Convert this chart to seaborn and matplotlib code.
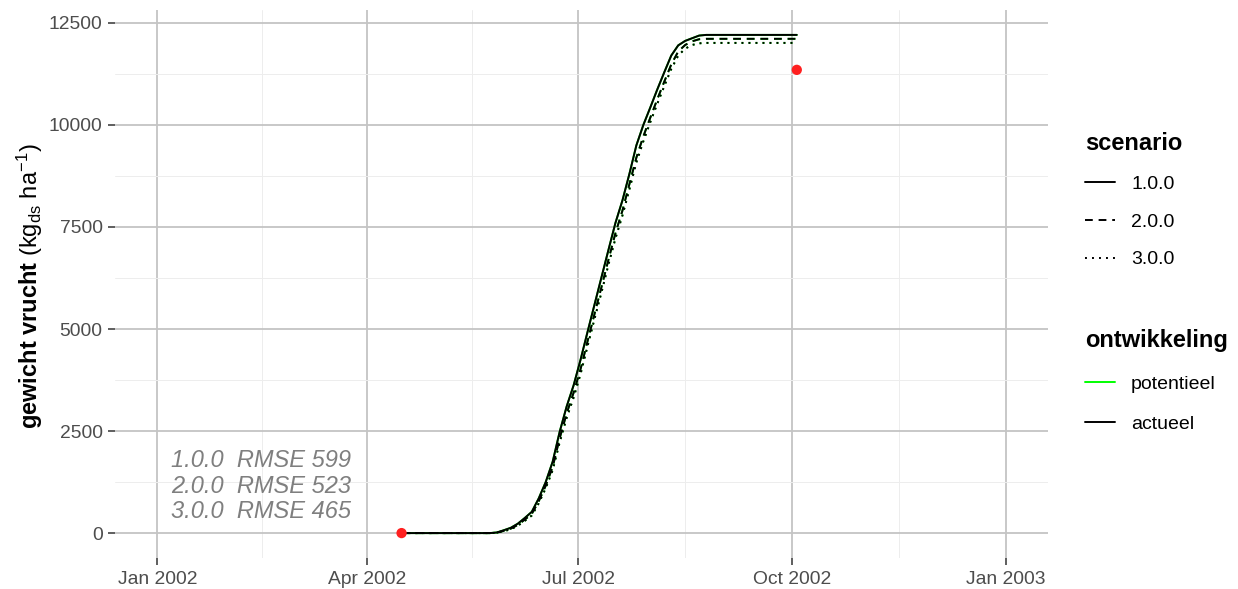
import pandas as pd
import matplotlib
matplotlib.use("Agg")
import matplotlib.pyplot as plt
import matplotlib.dates as mdates
from matplotlib.lines import Line2D
import seaborn as sns

# ---- data -------------------------------------------------------------
dates = ["2002-04-16",
         "2002-05-24", "2002-05-27", "2002-05-30", "2002-06-02", "2002-06-05",
         "2002-06-08", "2002-06-11", "2002-06-14", "2002-06-17", "2002-06-20",
         "2002-06-23", "2002-06-26", "2002-06-29", "2002-07-02", "2002-07-05",
         "2002-07-08", "2002-07-11", "2002-07-14", "2002-07-17", "2002-07-20",
         "2002-07-23", "2002-07-26", "2002-07-29", "2002-08-01", "2002-08-04",
         "2002-08-07", "2002-08-10", "2002-08-13", "2002-08-16", "2002-08-19",
         "2002-08-22", "2002-08-25", "2002-10-03"]

actueel_1 = [0,
             0, 15, 70, 130, 230, 370, 520, 850, 1250, 1750,
             2480, 3100, 3620, 4250, 4930, 5600, 6270, 6940, 7600, 8150,
             8800, 9500, 10000, 10430, 10870, 11290, 11700, 11950, 12060, 12125,
             12190, 12206, 12206]
actueel_2 = [0,
             0, 10, 55, 110, 200, 330, 470, 780, 1160, 1620,
             2320, 2930, 3440, 4020, 4700, 5370, 6030, 6700, 7350, 7900,
             8550, 9200, 9720, 10180, 10630, 11060, 11480, 11800, 11960, 12050,
             12100, 12110, 12110]
actueel_3 = [0,
             0, 8, 45, 95, 180, 300, 430, 730, 1100, 1540,
             2220, 2820, 3320, 3900, 4580, 5250, 5900, 6580, 7220, 7780,
             8420, 9080, 9600, 10070, 10520, 10950, 11370, 11700, 11870, 11960,
             12000, 12010, 12010]

potentieel_1 = actueel_1
potentieel_2 = actueel_2
potentieel_3 = actueel_3

scenarios = ["1.0.0", "2.0.0", "3.0.0"]
ontwikkeling = ["potentieel", "actueel"]
rmse_values = [599, 523, 465]

obs_dates = ["2002-04-16", "2002-10-03"]
obs_values = [0, 11350]

x_breaks = ["2002-01-01", "2002-04-01", "2002-07-01", "2002-10-01", "2003-01-01"]
x_labels = ["Jan 2002", "Apr 2002", "Jul 2002", "Oct 2002", "Jan 2003"]
y_breaks = [0, 2500, 5000, 7500, 10000, 12500]

# ---- long table -------------------------------------------------------
series = {
    ("potentieel", "1.0.0"): potentieel_1,
    ("potentieel", "2.0.0"): potentieel_2,
    ("potentieel", "3.0.0"): potentieel_3,
    ("actueel", "1.0.0"): actueel_1,
    ("actueel", "2.0.0"): actueel_2,
    ("actueel", "3.0.0"): actueel_3,
}
rows = []
for (ontw, scen), vals in series.items():
    for d, v in zip(dates, vals):
        rows.append({"datum": pd.Timestamp(d), "gewicht": v,
                     "ontwikkeling": ontw, "scenario": scen})
df = pd.DataFrame(rows)
obs = pd.DataFrame({"datum": pd.to_datetime(obs_dates), "gewicht": obs_values})

# ---- style ------------------------------------------------------------
sns.set_style("white")
plt.rcParams["font.family"] = ["Liberation Sans", "DejaVu Sans"]
plt.rcParams["text.color"] = "black"
plt.rcParams["mathtext.fontset"] = "custom"
plt.rcParams["mathtext.rm"] = "Liberation Sans"
plt.rcParams["mathtext.it"] = "Liberation Sans:italic"
plt.rcParams["mathtext.bf"] = "Liberation Sans:bold"

fig = plt.figure(figsize=(12.38, 5.89), dpi=100)
ax = fig.add_axes([0.0929, 1 - 558 / 589, 0.8469 - 0.0929, (558 - 10) / 589])

LW = 1.4
line_colors = {"potentieel": "#00FF00", "actueel": "black"}
line_dashes = {"1.0.0": "", "2.0.0": (4, 3), "3.0.0": (1, 2.6)}

sns.lineplot(data=df, x="datum", y="gewicht", hue="ontwikkeling",
             style="scenario", hue_order=ontwikkeling, style_order=scenarios,
             palette=line_colors, dashes=line_dashes, estimator=None,
             sort=True, legend=False, linewidth=LW, ax=ax)
sns.scatterplot(data=obs, x="datum", y="gewicht", color="#FF2020",
                s=55, edgecolor="none", legend=False, ax=ax, zorder=5)

# ---- scales -----------------------------------------------------------
xb = [mdates.date2num(pd.Timestamp(d)) for d in x_breaks]
xmin, xmax = xb[0], xb[-1]
pad = 0.05 * (xmax - xmin)
ax.set_xlim(xmin - pad, xmax + pad)
ax.set_xticks(xb)
ax.set_xticklabels(x_labels)
ax.set_xticks([(a + b) / 2 for a, b in zip(xb[:-1], xb[1:])], minor=True)

ymax = df["gewicht"].max()
ax.set_ylim(-0.05 * ymax, 1.05 * ymax)
ax.set_yticks(y_breaks)
ax.set_yticks([(a + b) / 2 for a, b in zip(y_breaks[:-1], y_breaks[1:])], minor=True)

ax.grid(which="major", color="#C4C4C4", linewidth=1.3)
ax.grid(which="minor", color="#EDEDED", linewidth=0.7)
ax.set_axisbelow(True)
for s in ax.spines.values():
    s.set_visible(False)
ax.tick_params(which="major", length=5, width=1.1, color="#333333",
               labelcolor="#4D4D4D", labelsize=13.9, pad=4)
ax.tick_params(which="minor", length=0)
ax.tick_params(axis="y", left=True)
ax.tick_params(axis="x", bottom=True)
ax.set_xlabel("")
ax.set_ylabel("")

fig.text(30 / 1238, 1 - 286 / 589,
         r"$\mathbf{gewicht\ vrucht}$ (kg$_{\mathrm{ds}}$ ha$^{-1}$)",
         rotation=90, ha="center", va="center", fontsize=17, color="black")

# RMSE annotation
rmse_text = "\n".join(f"{s}  RMSE {r}" for s, r in zip(scenarios, rmse_values))
ax.text(mdates.date2num(pd.Timestamp("2002-01-07")), 1150, rmse_text,
        ha="left", va="center", fontsize=17, style="italic",
        color="#7F7F7F", linespacing=1.127)

# ---- legends ----------------------------------------------------------
scen_handles = [Line2D([], [], color="black", linewidth=LW, linestyle="-"),
                Line2D([], [], color="black", linewidth=LW, dashes=(4, 3)),
                Line2D([], [], color="black", linewidth=LW, dashes=(1, 2.6))]
ontw_handles = [Line2D([], [], color=line_colors[o], linewidth=LW) for o in ontwikkeling]

common = dict(loc="upper left", frameon=False, borderpad=0, borderaxespad=0,
              handlelength=1.55, handletextpad=0.82, fontsize=14,
              alignment="left",
              title_fontproperties={"weight": "bold", "size": 17})
leg1 = fig.legend(scen_handles, scenarios, title="scenario", labelspacing=1.04,
                  bbox_to_anchor=(1085 / 1238, 1 - 132 / 589), **common)
leg2 = fig.legend(ontw_handles, ontwikkeling, title="ontwikkeling", labelspacing=1.18,
                  bbox_to_anchor=(1085 / 1238, 1 - 329 / 589), **common)
for lg in (leg1, leg2):
    lg.get_title().set_color("black")
    for t in lg.get_texts():
        t.set_color("black")

fig.savefig("out.png", dpi=100)
